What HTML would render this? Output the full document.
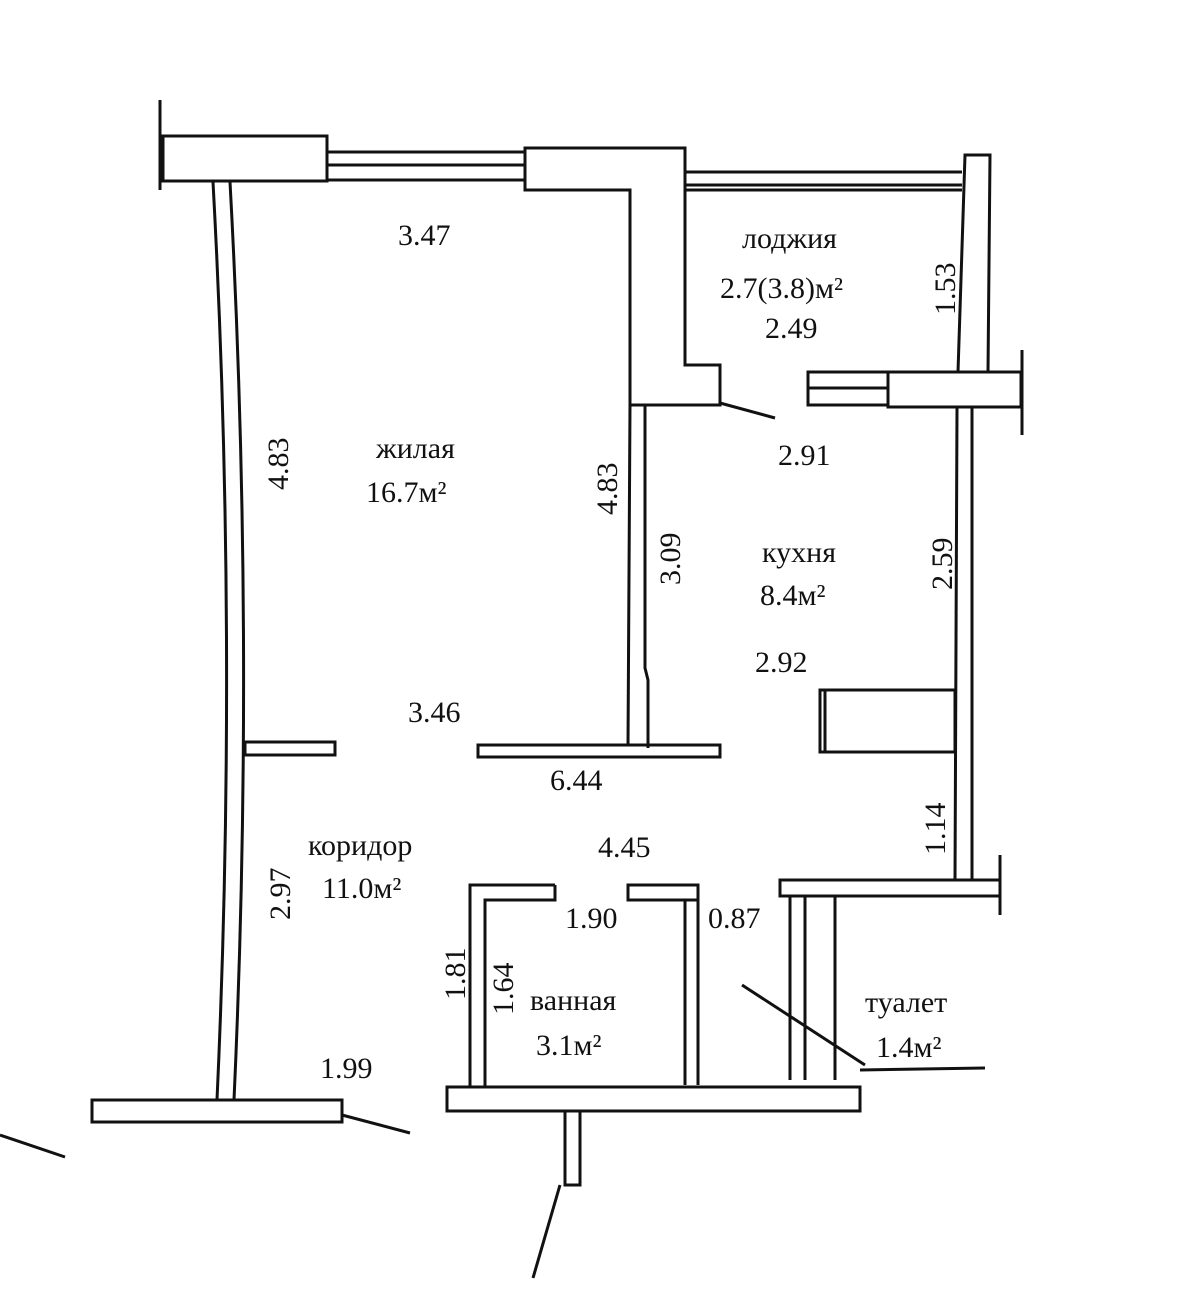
<!DOCTYPE html>
<html><head><meta charset="utf-8"><style>
html,body{margin:0;padding:0;background:#fff;}
svg{display:block}
text{font-family:"Liberation Serif",serif;fill:#111;}
</style></head><body>
<svg width="1200" height="1289" viewBox="0 0 1200 1289" xmlns="http://www.w3.org/2000/svg">
<g fill="none" stroke="#111" stroke-width="3">
<!-- top left block -->
<rect x="163" y="136" width="164" height="45"/>
<line x1="160" y1="100" x2="160" y2="190"/>
<line x1="327" y1="152" x2="525" y2="152"/>
<line x1="327" y1="165" x2="525" y2="165"/>
<line x1="327" y1="180" x2="525" y2="180"/>
<!-- central L wall -->
<polygon points="525,148 685,148 685,365 720,365 720,405 630,405 630,190 525,190"/>
<!-- loggia top -->
<line x1="685" y1="172" x2="962" y2="172"/>
<line x1="685" y1="185" x2="962" y2="185"/>
<line x1="685" y1="190" x2="962" y2="190"/>
<!-- loggia right wall -->
<polygon points="965,155 990,155 988,372 958,372"/>
<rect x="888" y="372" width="133" height="35"/>
<line x1="1022" y1="350" x2="1022" y2="435"/>
<rect x="808" y="372" width="80" height="33"/>
<line x1="808" y1="388" x2="888" y2="388"/>
<line x1="720" y1="403" x2="775" y2="418"/>
<!-- left curved wall -->
<path d="M213,182 Q238,640 217,1100"/>
<path d="M230,182 Q255,640 234,1100"/>
<!-- kitchen/living wall -->
<polyline points="630,405 628,745"/>
<polyline points="645,405 645,668 648,680 648,748"/>
<rect x="478" y="745" width="242" height="12"/>
<rect x="245" y="742" width="90" height="13"/>
<rect x="820" y="690" width="135" height="62"/>
<line x1="825" y1="690" x2="825" y2="752"/>
<!-- right wall -->
<line x1="957" y1="408" x2="955" y2="880"/>
<line x1="972" y1="408" x2="972" y2="880"/>
<!-- toilet top wall -->
<rect x="780" y="880" width="220" height="16"/>
<line x1="1000" y1="855" x2="1000" y2="915"/>
<!-- bathroom -->
<polyline points="555,885 470,885 470,1088"/>
<polyline points="555,885 555,900 485,900 485,1088"/>
<rect x="628" y="885" width="70" height="15"/>
<line x1="685" y1="900" x2="685" y2="1085"/>
<line x1="698" y1="900" x2="698" y2="1085"/>
<!-- toilet -->
<line x1="790" y1="896" x2="790" y2="1080"/>
<line x1="805" y1="896" x2="805" y2="1080"/>
<line x1="835" y1="896" x2="835" y2="1080"/>
<line x1="860" y1="1070" x2="985" y2="1068"/>
<line x1="742" y1="985" x2="865" y2="1065"/>
<!-- bottom walls -->
<rect x="447" y="1087" width="413" height="24"/>
<rect x="92" y="1100" width="250" height="22"/>
<line x1="342" y1="1115" x2="410" y2="1133"/>
<rect x="565" y="1111" width="15" height="74"/>
<line x1="560" y1="1185" x2="533" y2="1278"/>
<line x1="0" y1="1135" x2="65" y2="1157"/>
</g>
<g font-size="30">
<text x="398" y="245">3.47</text>
<text x="742" y="248">лоджия</text>
<text x="720" y="298">2.7(3.8)м²</text>
<text x="765" y="338">2.49</text>
<text x="778" y="465">2.91</text>
<text x="376" y="458">жилая</text>
<text x="366" y="502">16.7м²</text>
<text x="762" y="562">кухня</text>
<text x="760" y="605">8.4м²</text>
<text x="755" y="672">2.92</text>
<text x="408" y="722">3.46</text>
<text x="550" y="790">6.44</text>
<text x="308" y="855">коридор</text>
<text x="322" y="898">11.0м²</text>
<text x="598" y="857">4.45</text>
<text x="565" y="928">1.90</text>
<text x="708" y="928">0.87</text>
<text x="530" y="1010">ванная</text>
<text x="536" y="1055">3.1м²</text>
<text x="865" y="1012">туалет</text>
<text x="876" y="1057">1.4м²</text>
<text x="320" y="1078">1.99</text>
<text transform="translate(288,490) rotate(-90)">4.83</text>
<text transform="translate(617,515) rotate(-90)">4.83</text>
<text transform="translate(680,585) rotate(-90)">3.09</text>
<text transform="translate(955,315) rotate(-90)">1.53</text>
<text transform="translate(952,590) rotate(-90)">2.59</text>
<text transform="translate(945,855) rotate(-90)">1.14</text>
<text transform="translate(290,920) rotate(-90)">2.97</text>
<text transform="translate(465,1000) rotate(-90)">1.81</text>
<text transform="translate(513,1015) rotate(-90)">1.64</text>
</g>
</svg>
</body></html>
